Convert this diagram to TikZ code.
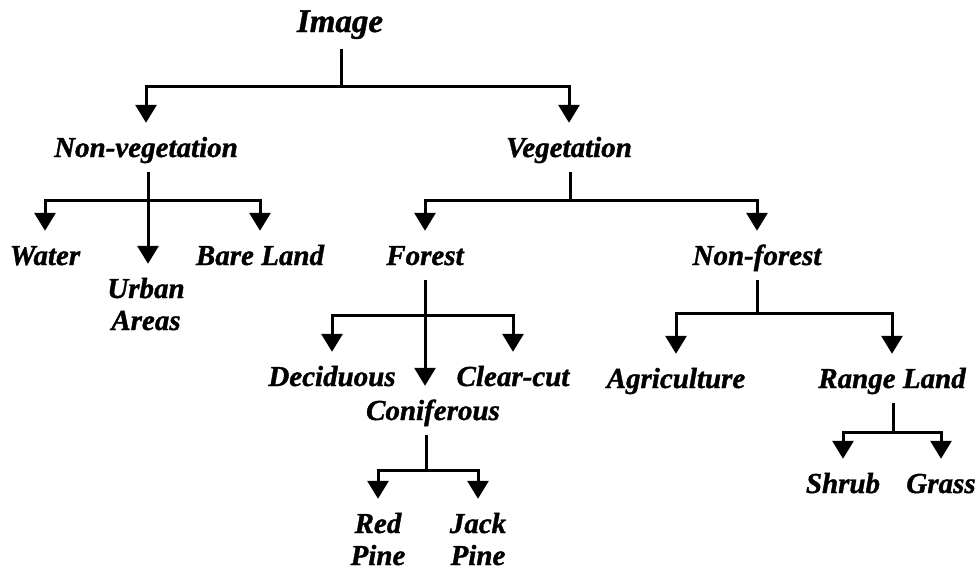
\documentclass[tikz,border=0pt]{standalone}
\usepackage{fontspec}
\setmainfont{Liberation Serif}[BoldItalicFeatures={FakeBold=1.2}]
\usetikzlibrary{arrows.meta}
% two centred lines, baseline on the first one
\newcommand{\twoline}[2]{\vtop{\baselineskip=32pt\halign{\hfil##\hfil\cr#1\cr#2\cr}}}

\begin{document}
\begin{tikzpicture}[x=1pt,y=-1pt,
  lbl/.style={anchor=base,inner sep=0pt,text height=34pt,text depth=15pt,
    font=\bfseries\itshape\fontsize{29}{33}\selectfont},
  title/.style={lbl,text depth=17pt,font=\bfseries\itshape\fontsize{33}{38}\selectfont},
  link/.style={line width=3pt},
  arr/.style={link,-{Triangle[width=21pt,length=18pt]}},
]
\useasboundingbox[fill=white] (0,0) rectangle (980,571);

% class labels
\node[title] (img) at (340,32) {Image};
\node[lbl] (nveg) at (146,157) {Non-vegetation};
\node[lbl] (veg) at (569,157) {Vegetation};
\node[lbl] (water) at (45,265) {Water};
\node[lbl] (urban) at (146,298) {\twoline{Urban}{Areas}};
\node[lbl] (bare) at (260,265) {Bare Land};
\node[lbl] (forest) at (425,265) {Forest};
\node[lbl] (nforest) at (757,265) {Non-forest};
\node[lbl] (decid) at (332,386) {Deciduous};
\node[lbl] (conif) at (433,420) {Coniferous};
\node[lbl] (clear) at (513,386) {Clear-cut};
\node[lbl] (agri) at (676,388) {Agriculture};
\node[lbl] (range) at (892,388) {Range Land};
\node[lbl] (red) at (378,533) {\twoline{Red}{Pine}};
\node[lbl] (jack) at (478,533) {\twoline{Jack}{Pine}};
\node[lbl] (shrub) at (843,493) {Shrub};
\node[lbl] (grass) at (941,493) {Grass};

% branching points
\coordinate (imgbar) at (341,86);
\coordinate (nvegbar) at (148,200);
\coordinate (vegbar) at (570,200);
\coordinate (forestbar) at (425,315);
\coordinate (nforestbar) at (757,313);
\coordinate (conifbar) at (426,470);
\coordinate (rangebar) at (893,432);

% Image
\draw[link] (imgbar |- img.south) -- (imgbar);
\draw[arr] (imgbar) -| (nveg.north);
\draw[arr] (imgbar) -| (veg.north);
% Non-vegetation
\draw[link] (nvegbar |- nveg.south) -- (nvegbar);
\draw[arr] (nvegbar) -| (water.north);
\draw[arr] (nvegbar) -| (bare.north);
\draw[arr] (nvegbar) -- (nvegbar |- urban.north);
% Vegetation
\draw[link] (vegbar |- veg.south) -- (vegbar);
\draw[arr] (vegbar) -| (forest.north);
\draw[arr] (vegbar) -| (nforest.north);
% Forest
\draw[link] (forestbar |- forest.south) -- (forestbar);
\draw[arr] (forestbar) -| (decid.north);
\draw[arr] (forestbar) -| (clear.north);
\draw[arr] (forestbar) -- (forestbar |- conif.north);
% Coniferous
\draw[link] (conifbar |- conif.south) -- (conifbar);
\draw[arr] (conifbar) -| (red.north);
\draw[arr] (conifbar) -| (jack.north);
% Non-forest
\draw[link] (nforestbar |- nforest.south) -- (nforestbar);
\draw[arr] (nforestbar) -| (agri.north);
\draw[arr] (nforestbar) -| (range.north);
% Range Land
\draw[link] (rangebar |- range.south) -- (rangebar);
\draw[arr] (rangebar) -| (shrub.north);
\draw[arr] (rangebar) -| (grass.north);
\end{tikzpicture}
\end{document}
